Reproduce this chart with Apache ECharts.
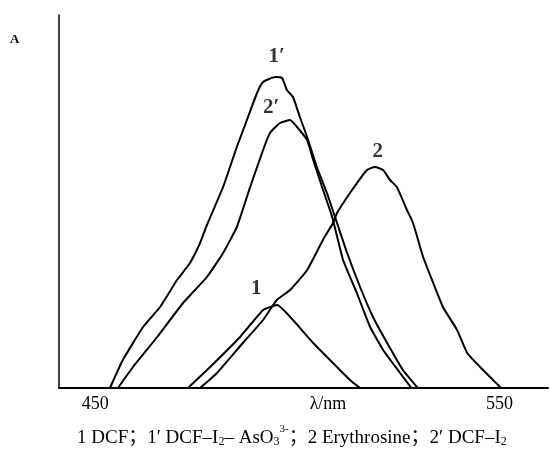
<!DOCTYPE html>
<html>
<head>
<meta charset="utf-8">
<script src="https://cdn.jsdelivr.net/npm/echarts@6/dist/echarts.min.js"></script>
<style>html,body{margin:0;padding:0;background:#fff;}#c{width:551px;height:457px;}</style>
</head>
<body>
<div id="c"></div>
<script>
// Curve 1: DCF
const wl1 = [472.9,478.4,485.8,491.5,494.0,495.0,498.9,503.9,508.8,513.0,515.5];
const in1 = [0,21,51,78,82,83,68,45,25,8,0];
// Curve 1': DCF–I2–AsO3(3-)
const wl1p = [453.6,456.8,461.8,466.0,470.2,473.4,475.9,477.6,481.6,485.0,487.5,490.0,491.5,494.5,496.2,497.4,498.9,500.6,502.4,504.8,507.3,509.8,512.3,515.5,518.7,522.2,526.1,529.8];
const in1p = [0,28,61,81,108,125,145,163,201,241,268,295,306,311,310,298,291,271,251,221,195,165,135,101,71,45,18,0];
// Curve 2: Erythrosine
const wl2 = [475.9,480.1,486.5,491.5,494.9,498.2,502.4,506.3,508.8,509.8,513.0,517.2,519.2,521.2,522.9,524.6,527.1,528.6,531.1,533.6,536.0,539.5,542.0,545.2,548.4,550.4];
const in2 = [0,15,45,68,88,98,118,148,165,175,195,218,221,218,208,201,178,165,131,105,81,58,35,21,8,0];
// Curve 2': DCF–I2
const wl2p = [455.6,459.3,465.3,471.7,477.6,481.6,485.0,488.3,491.5,493.2,495.7,498.2,499.9,502.4,503.9,506.1,508.6,511.3,514.7,518.0,521.2,525.4,528.2];
const in2p = [0,21,51,85,111,135,161,201,238,255,265,268,261,248,228,201,171,128,95,61,38,15,0];
// Curve labels
const labelNames = ["1′","2′","2","1"];
const labelWl = [494.9,493.5,519.9,489.8];
const labelIn = [331,280,236,99];
// Axis
const xTicks = [450,550];
const xName = "λ/nm";

const zip = (a,b) => a.map((v,i)=>[v,b[i]]);
const lineStyle = {color:'#000', width:2};
const mk = (name, x, y) => ({
  name, type:'line', data: zip(x,y), symbol:'none', smooth:0.15,
  lineStyle, silent:true, animation:false
});

const serif = '"Liberation Serif","Times New Roman",serif';
const chart = echarts.init(document.getElementById('c'));
chart.setOption({
  animation:false,
  backgroundColor:'#fff',
  grid:{left:59, right:3, top:15, bottom:69, containLabel:false},
  xAxis:{
    type:'value', min:441, max:562,
    axisLine:{show:true, lineStyle:{color:'#000', width:2}},
    axisTick:{show:false},
    splitLine:{show:false},
    axisLabel:{customValues:xTicks, color:'#000', fontFamily:serif, fontSize:18, margin:7},
    name:xName, nameLocation:'middle', nameGap:7, nameMoveOverlap:false,
    nameTextStyle:{color:'#000', fontFamily:serif, fontSize:18, padding:[0,0,0,49], verticalAlign:'top'}
  },
  yAxis:{
    type:'value', min:0, max:373,
    axisLine:{show:true, lineStyle:{color:'#000', width:1.5}},
    axisTick:{show:false}, axisLabel:{show:false}, splitLine:{show:false}
  },
  series:[
    mk('1', wl1, in1),
    mk("1'", wl1p, in1p),
    mk('2', wl2, in2),
    mk("2'", wl2p, in2p),
    {
      type:'scatter', symbolSize:0, silent:true,
      data: labelNames.map((n,i)=>({name:n, value:[labelWl[i], labelIn[i]]})),
      label:{show:true, position:'inside', formatter:p=>p.name, color:'#000',
        fontFamily:serif, fontSize:21, fontWeight:'bold'}
    }
  ],
  graphic:[
    {type:'text', left:10, top:33, style:{text:'A', font:'bold 13px "Liberation Serif", serif', fill:'#000'}},
    {type:'text', left:77, top:424,
      style:{
        text:'{n|1 DCF；1′ DCF–I}{s|2}{n|– AsO}{s|3}{p|3-}{n|；2 Erythrosine；2′ DCF–I}{s|2}',
        fill:'#000',
        rich:{
          n:{fontFamily:'"Liberation Serif","Noto Sans CJK SC",serif', fontSize:19, lineHeight:24, verticalAlign:'bottom', fill:'#000'},
          s:{fontFamily:'"Liberation Serif",serif', fontSize:12, lineHeight:12, verticalAlign:'bottom', fill:'#000'},
          p:{fontFamily:'"Liberation Serif",serif', fontSize:11, lineHeight:11, verticalAlign:'top', fill:'#000'}
        }
      }
    }
  ]
});
</script>
</body>
</html>
